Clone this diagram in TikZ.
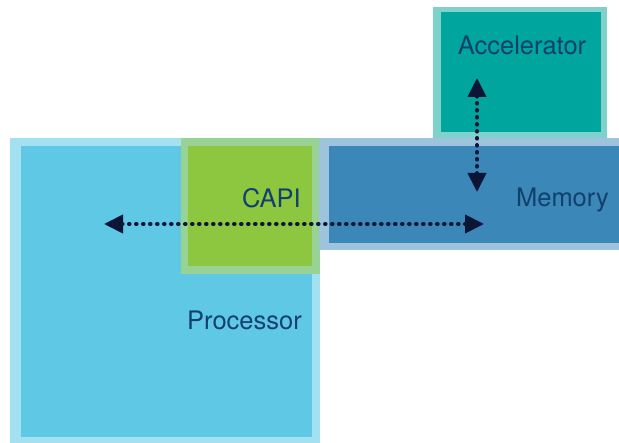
\documentclass[tikz,border=0pt]{standalone}
\usepackage{fontspec}
\setmainfont{TeX Gyre Heros}
\usetikzlibrary{arrows.meta}
\definecolor{procIn}{HTML}{5EC8E5}
\definecolor{procOut}{HTML}{A3E0F0}
\definecolor{capiIn}{HTML}{8DC63F}
\definecolor{capiOut}{HTML}{98D395}
\definecolor{memIn}{HTML}{3A87B8}
\definecolor{memOut}{HTML}{9EC4DD}
\definecolor{accIn}{HTML}{00A59D}
\definecolor{accOut}{HTML}{7FD1CB}
\definecolor{txt}{HTML}{12406E}
\definecolor{arr}{HTML}{0B1535}
\begin{document}
\begin{tikzpicture}[x=1pt,y=-1pt,
  lbl/.style={text=txt, font=\fontsize{25.5}{28}\selectfont, inner sep=0pt},
  link/.style={draw=arr, line width=4pt, line cap=round, dash pattern=on 0.6pt off 6.4pt,
    {Triangle[length=19pt,width=18pt]}-{Triangle[length=19pt,width=18pt]}}]
\useasboundingbox (0,0) rectangle (619,443);
% Processor
\fill[procOut] (10,138) rectangle (320,443);
\fill[procIn] (21,146) rectangle (312,437);
% CAPI
\fill[capiOut] (181,138) rectangle (320,274);
\fill[capiIn] (188,146) rectangle (312,266);
% Memory
\fill[memOut] (319,138) rectangle (619,250);
\fill[memIn] (329,146) rectangle (619,243);
% Accelerator
\fill[accOut] (433,7) rectangle (607,138);
\fill[accIn] (441,12) rectangle (601,132);
% labels
\node[lbl, anchor=east] (capi) at (301,198) {CAPI};
\node[lbl, anchor=east] (mem) at (609,200) {Memory};
\node[lbl] (acc) at (522,45) {Accelerator};
\node[lbl, anchor=east] (proc) at (302,320) {Processor};
% connectors
\coordinate (pL) at (104,224);
\coordinate (mR) at (484,224);
\coordinate (aT) at (477,78);
\coordinate (mT) at (477,192);
\draw[link] (pL) -- (mR);
\draw[link] (aT) -- (mT);
\end{tikzpicture}
\end{document}
